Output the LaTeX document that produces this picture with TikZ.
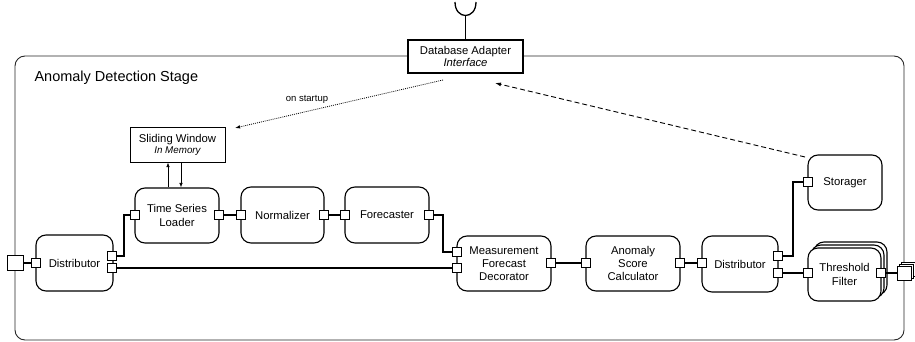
\documentclass[tikz,border=0pt]{standalone}
\usepackage{fontspec}
\setmainfont{Liberation Sans}
\usetikzlibrary{arrows.meta}
\begin{document}
\begin{tikzpicture}[x=1pt,y=-1pt,
  comp/.style={draw, line width=1.1pt, rounded corners=10pt, fill=white, align=center,
    font=\fontsize{11.3}{13.3}\selectfont, inner sep=0pt},
  plainbox/.style={draw, line width=1.1pt, fill=white, align=center,
    font=\fontsize{11.3}{12.5}\selectfont, inner sep=0pt},
  port/.style={draw, line width=0.8pt, fill=white, minimum width=9.5pt, minimum height=9.5pt, inner sep=0pt},
  bigport/.style={draw, line width=0.8pt, fill=white, minimum width=14pt, minimum height=14pt, inner sep=0pt},
  wire/.style={line width=1.8pt},
  smallarrow/.style={line width=0.7pt, -{Latex[length=4.5pt,width=3.5pt]}},
]
\useasboundingbox (0,0) rectangle (915,342);

% outer stage frame
\draw[line width=0.9pt, rounded corners=10pt, draw=black!85] (15,56) rectangle (904,340);
\node[anchor=west, font=\fontsize{14.5}{16}\selectfont] (title) at (31,78) {Anomaly Detection Stage};

% database adapter interface
\node[plainbox, minimum width=115pt, minimum height=33pt] (ad) at (465.5,56.5)
  {Database Adapter\\\itshape Interface};
\coordinate (cup) at (465.5,16);
\draw[line width=1.3pt] (ad.north) -- (cup);
\draw[line width=1.3pt] (455,2) .. controls (455,20) and (476,20) .. (476,2);

% sliding window
\node[plainbox, line width=1pt, minimum width=95pt, minimum height=34pt] (sw) at (177.5,145)
  {Sliding Window\\[-1pt]{\fontsize{9.8}{11}\selectfont\itshape In Memory}};

% components
\node[comp, minimum width=77pt, minimum height=56pt] (d1) at (74.5,263) {Distributor};
\node[comp, minimum width=84pt, minimum height=55pt] (l) at (177,215.5) {Time Series\\Loader};
\node[comp, minimum width=83pt, minimum height=56pt] (n) at (282.5,215) {Normalizer};
\node[comp, minimum width=84pt, minimum height=56pt] (f) at (387,215) {Forecaster};
\node[comp, minimum width=94pt, minimum height=55pt] (m) at (504,263.5) {Measurement\\Forecast\\Decorator};
\node[comp, minimum width=94pt, minimum height=55pt] (a) at (633,263.5) {Anomaly\\Score\\Calculator};
\node[comp, minimum width=76pt, minimum height=56pt] (d2) at (740,264) {Distributor};
\node[comp, minimum width=74pt, minimum height=55pt] (s) at (845,182.5) {Storager};
\node[comp, minimum width=73pt, minimum height=53pt] (tb2) at (850.5,268.5) {};
\node[comp, minimum width=73pt, minimum height=53pt] (tb1) at (847.5,271.5) {};
\node[comp, minimum width=73pt, minimum height=53pt] (t) at (844.5,274.5) {Threshold\\Filter};

% ports
\node[draw, line width=0.8pt, fill=white, minimum width=16pt, minimum height=15pt, inner sep=0pt] (pl) at (15,263) {};
\node[bigport] (prb2) at (908,269) {};
\node[bigport] (prb1) at (906,271) {};
\node[bigport] (pr) at (904,273) {};

\node[port] (d1in) at (36,263) {};
\node[port] (d1o1) at (112,256) {};
\node[port] (d1o2) at (112,268) {};
\node[port] (lin) at (135,215) {};
\node[port] (lout) at (219,215) {};
\node[port] (nin) at (241,215) {};
\node[port] (nout) at (324,215) {};
\node[port] (fin) at (345,215) {};
\node[port] (fout) at (429,215) {};
\node[port] (min1) at (457,252) {};
\node[port] (min2) at (457,268) {};
\node[port] (mout) at (551,263) {};
\node[port] (ain) at (586,263) {};
\node[port] (aout) at (680,263) {};
\node[port] (d2in) at (702,263) {};
\node[port] (d2o1) at (778,256) {};
\node[port] (d2o2) at (778,273) {};
\node[port] (sin) at (808,182) {};
\node[port] (tin) at (808,273) {};
\node[port] (tout) at (881,273) {};

% wires
\draw[wire] (pl.east) -- (d1in.west);
\draw[wire] (d1o1.east) -- ++(6.5,0) |- (lin.west);
\draw[wire] (d1o2.east) -- (min2.west);
\draw[wire] (lout.east) -- (nin.west);
\draw[wire] (nout.east) -- (fin.west);
\draw[wire] (fout.east) -- ++(9,0) |- (min1.west);
\draw[wire] (mout.east) -- (ain.west);
\draw[wire] (aout.east) -- (d2in.west);
\draw[wire] (d2o1.east) -- ++(9.5,0) |- (sin.west);
\draw[wire] (d2o2.east) -- (tin.west);
\draw[wire] (tout.east) -- (pr.west);

% loader <-> sliding window
\draw[smallarrow] ([xshift=-9pt]l.north) -- ([xshift=-9pt]l.north |- sw.south);
\draw[smallarrow] ([xshift=4pt]l.north |- sw.south) -- ([xshift=4pt]l.north);

% on startup (dotted)
\coordinate (ds) at (443,80);
\coordinate (de) at (235,128);
\draw[line width=0.8pt, dash pattern=on 0.9pt off 1.1pt, -{Latex[length=5pt,width=3.5pt]}] (ds) -- (de);
\node[font=\fontsize{9.5}{11}\selectfont] (os) at (307,99) {on startup};

% storager -> adapter (dashed)
\coordinate (qs) at (805,157);
\coordinate (qe) at (495,83);
\draw[line width=0.9pt, dash pattern=on 5pt off 3pt, -{Latex[length=6pt,width=4pt]}] (qs) -- (qe);
\end{tikzpicture}
\end{document}
